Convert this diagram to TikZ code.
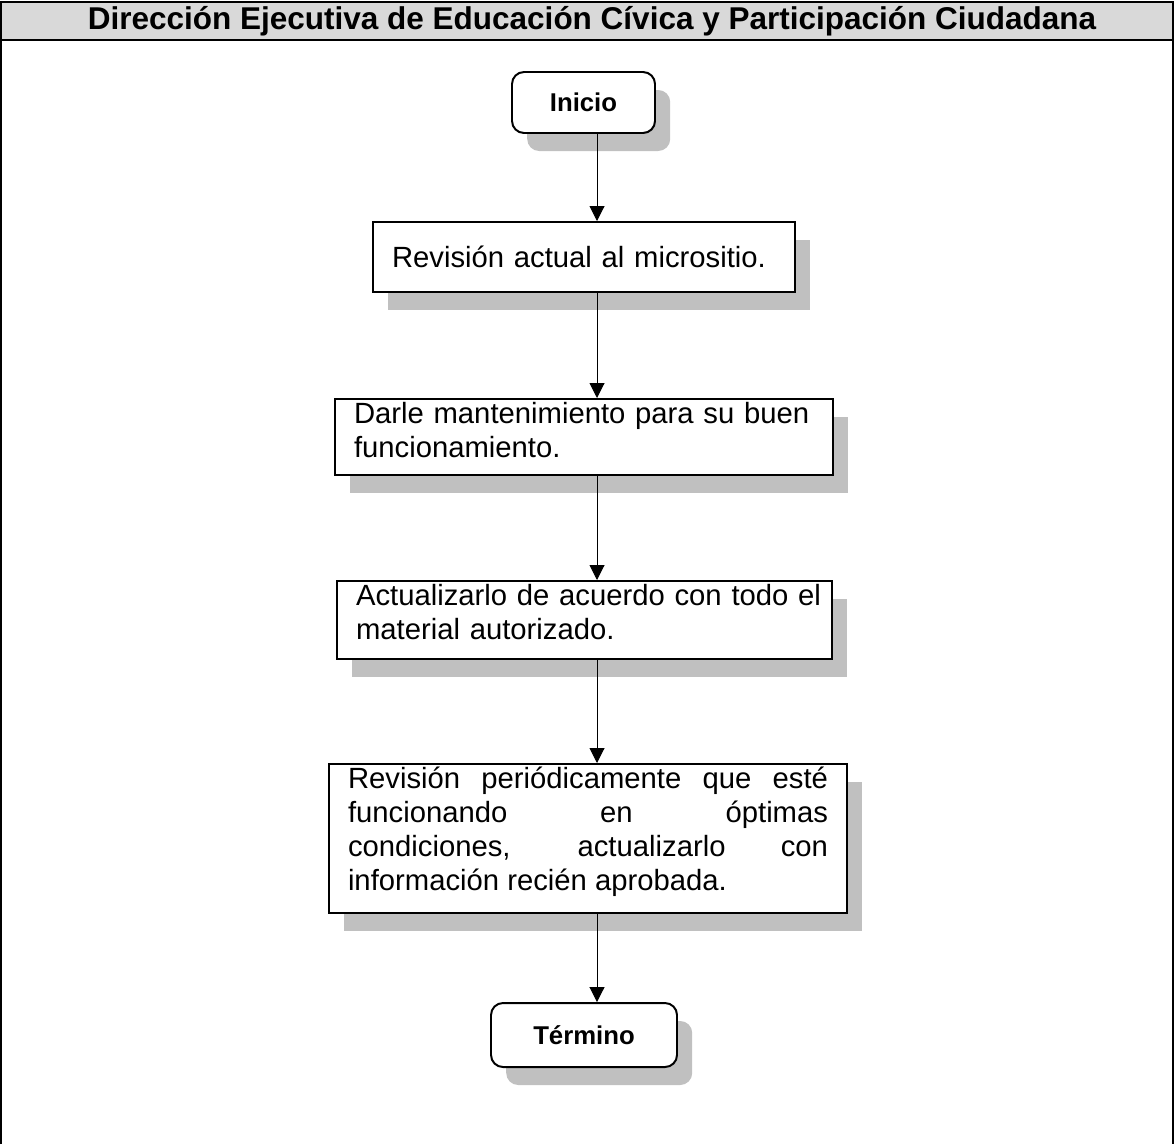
\documentclass[tikz,border=0pt]{standalone}
\usepackage{fontspec}
\setmainfont{Liberation Sans}
\usetikzlibrary{arrows.meta,shadows}
\definecolor{flowgray} {RGB}{192,192,192}
\definecolor{titlegray}{RGB}{217,217,217}

\begin{document}
\begin{tikzpicture}[
  x=0.025cm, y=-0.025cm,
  >={Triangle[length=0.37cm,width=0.37cm]},
  shadowed/.style={drop shadow={shadow xshift=0.38cm,shadow yshift=-0.45cm,
                   fill=flowgray,opacity=1}},
  terminal/.style={draw,line width=1.4pt,rounded corners=0.3cm,fill=white,
                   shadowed,font=\fontsize{18.3}{21}\selectfont\bfseries},
  process/.style={draw,line width=1.4pt,fill=white,shadowed,align=left,
                  inner xsep=19*\px,inner ysep=0pt,
                  font=\fontsize{20.8}{24.2}\selectfont},
  toptext/.style={process,anchor=north,text height=24.7*\px},
  arr/.style={->,line width=0.7pt},
]

\def\px{0.025cm}

\useasboundingbox (0,0) rectangle (1174,1144);

%% ── Frame and title band ───────────────────────────────────────────────────
\fill[titlegray] (1,2) rectangle (1173,40);
\draw[line width=1.4pt] (1,1144) -- (1,2) -- (1173,2) -- (1173,1144);
\draw[line width=1.4pt] (1,40) -- (1173,40);
\node[font=\fontsize{22.4}{26}\selectfont\bfseries] (title) at (592,21)
  {Dirección Ejecutiva de Educación Cívica y Participación Ciudadana};

%% ── Flow nodes ─────────────────────────────────────────────────────────────
\node[terminal,minimum width=143*\px,minimum height=61*\px] (ini) at (583.5,102.5)
  {Inicio};

\node[process,text width=384*\px,minimum height=70*\px] (rev) at (584,257)
  {Revisión actual al micrositio.};

\node[toptext,text width=460*\px,text depth=51.3*\px] (mant) at (584,398)
  {\mbox{Darle mantenimiento para su buen}\\
   funcionamiento.};

\node[toptext,text width=457*\px,text depth=53.3*\px] (act) at (584.5,580)
  {\mbox{Actualizarlo de acuerdo con todo el}\\
   material autorizado.};

\node[toptext,text width=480*\px,text depth=124.3*\px,align=justify] (per) at (588,763)
  {\tolerance=10000
   Revisión periódicamente que esté\linebreak
   funcionando en óptimas\linebreak
   condiciones, actualizarlo con\linebreak
   información recién aprobada.};

\node[terminal,minimum width=186*\px,minimum height=64*\px] (fin) at (584,1035)
  {Término};

%% ── Connectors (all on one column) ─────────────────────────────────────────
\coordinate (col) at (597,0);
\draw[arr] (ini.south -| col)  -- (rev.north -| col);
\draw[arr] (rev.south -| col)  -- (mant.north -| col);
\draw[arr] (mant.south -| col) -- (act.north -| col);
\draw[arr] (act.south -| col)  -- (per.north -| col);
\draw[arr] (per.south -| col)  -- (fin.north -| col);

\end{tikzpicture}
\end{document}
